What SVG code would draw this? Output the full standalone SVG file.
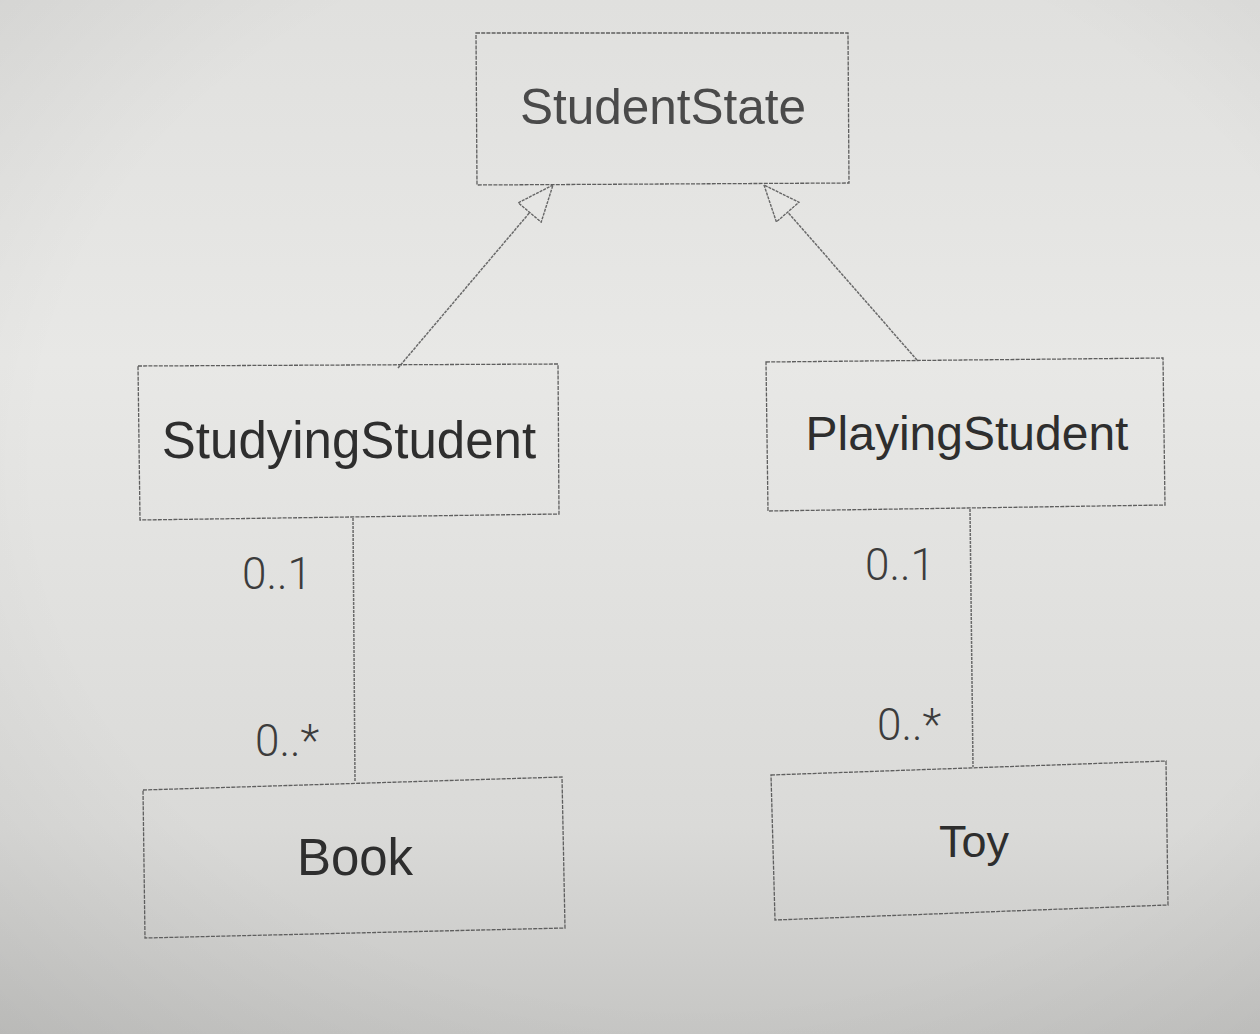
<svg xmlns="http://www.w3.org/2000/svg" width="1260" height="1034" viewBox="0 0 1260 1034">
  <defs>
    <linearGradient id="bg" x1="0" y1="0" x2="0" y2="1">
      <stop offset="0" stop-color="#e0e0de"/>
      <stop offset="0.35" stop-color="#e8e8e6"/>
      <stop offset="0.8" stop-color="#dadad8"/>
      <stop offset="1" stop-color="#c6c6c4"/>
    </linearGradient>
    <radialGradient id="vig" cx="0.55" cy="0.45" r="0.8">
      <stop offset="0.65" stop-color="#000" stop-opacity="0"/>
      <stop offset="1" stop-color="#000" stop-opacity="0.07"/>
    </radialGradient>
    <marker id="tri" viewBox="0 0 38 32" refX="37" refY="16" markerWidth="38" markerHeight="32" markerUnits="userSpaceOnUse" orient="auto">
      <path d="M1,1 L37,16 L1,31 Z" fill="#e6e6e4" stroke="#666" stroke-width="1.4" stroke-dasharray="3 1"/>
    </marker>
    <style>
      .box { fill: none; stroke: #5e5e5e; stroke-width: 1.3; stroke-dasharray: 4 1.2; }
      .conn { fill: none; stroke: #6a6a6a; stroke-width: 1.5; stroke-dasharray: 3 1; }
      .name { font-family: "Liberation Sans", Arial, sans-serif; fill: #2e2e2e; text-anchor: middle; }
      .mult { font-family: Roboto, "Open Sans", "Liberation Sans", sans-serif; font-weight: 300; fill: #3c3c3c; font-size: 44px; }
    </style>
  </defs>
  <rect width="1260" height="1034" fill="url(#bg)"/>
  <rect width="1260" height="1034" fill="url(#vig)"/>

  <g id="connectors">
    <line class="conn" x1="398" y1="368" x2="553" y2="185" marker-end="url(#tri)"/>
    <line class="conn" x1="917" y1="360" x2="764" y2="185" marker-end="url(#tri)"/>
    <line class="conn" x1="353" y1="518" x2="355" y2="781"/>
    <line class="conn" x1="970" y1="509" x2="973" y2="767"/>
    <text class="mult" x="242" y="589">0..1</text>
    <text class="mult" x="255" y="756">0..*</text>
    <text class="mult" x="865" y="580">0..1</text>
    <text class="mult" x="877" y="740">0..*</text>
  </g>

  <g id="StudentState">
    <polygon class="box" points="476,33 848,33 849,183 477,185"/>
    <text class="name" x="663" y="124" font-size="49.5" style="fill:#4a4a4a">StudentState</text>
  </g>
  <g id="StudyingStudent">
    <polygon class="box" points="138,366 558,364 559,514 140,520"/>
    <text class="name" x="349" y="458" font-size="51">StudyingStudent</text>
  </g>
  <g id="PlayingStudent">
    <polygon class="box" points="766,362 1163,358 1165,505 768,511"/>
    <text class="name" x="967" y="450" font-size="48">PlayingStudent</text>
  </g>
  <g id="Book">
    <polygon class="box" points="143,790 562,777 565,928 145,938"/>
    <text class="name" x="355" y="875" font-size="51">Book</text>
  </g>
  <g id="Toy">
    <polygon class="box" points="771,775 1166,761 1168,905 775,920"/>
    <text class="name" x="974" y="857" font-size="45">Toy</text>
  </g>
</svg>
